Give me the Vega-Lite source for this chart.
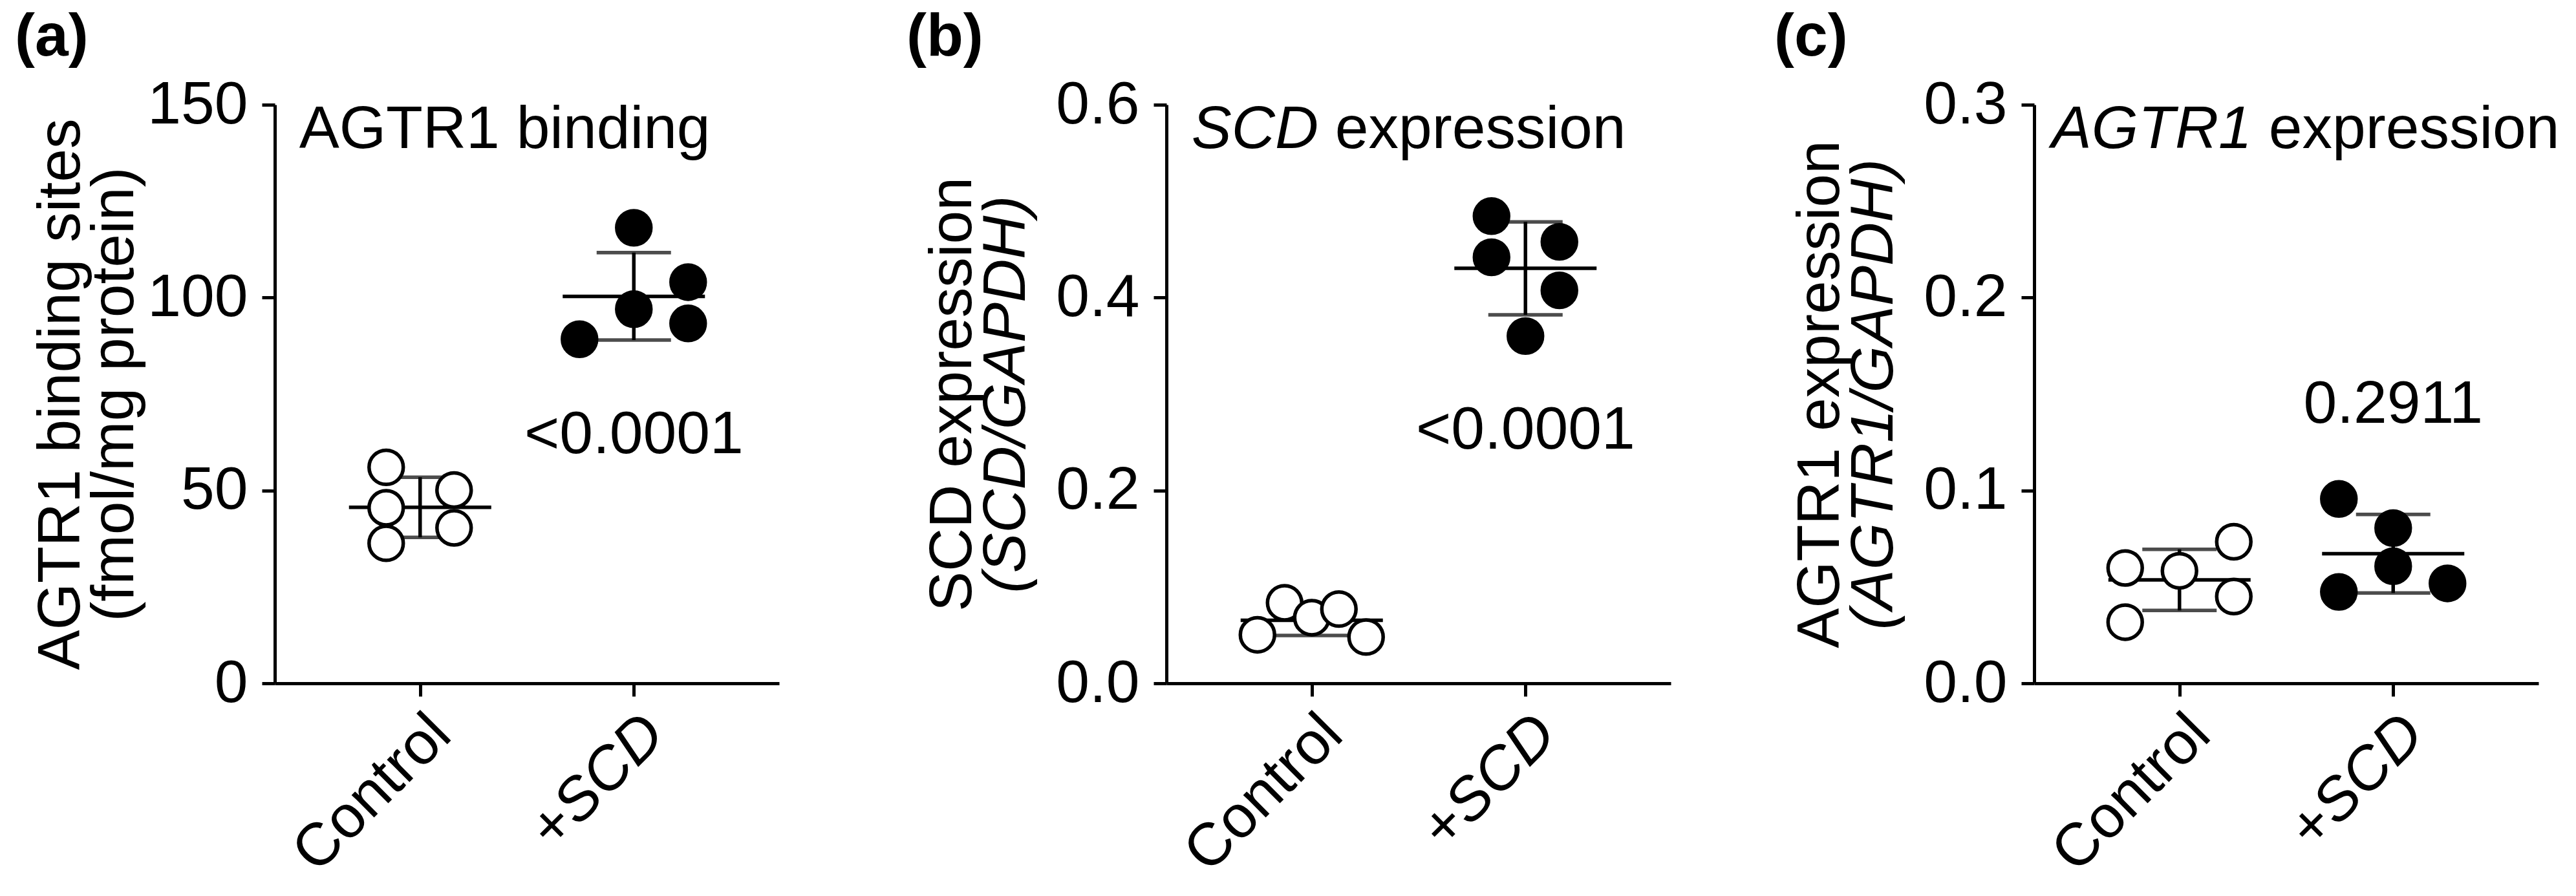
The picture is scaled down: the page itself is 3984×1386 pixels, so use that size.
{
  "$schema": "https://vega.github.io/schema/vega-lite/v6.json",
  "padding": {"left": 23, "top": 12, "right": 5, "bottom": 5},
  "background": "white",
  "bounds": "flush",
  "spacing": 599,
  "datasets": {
    "a": [
      {"group": "Control", "value": 56.0, "slot": -1.25},
      {"group": "Control", "value": 45.5, "slot": -1.25},
      {"group": "Control", "value": 36.3, "slot": -1.25},
      {"group": "Control", "value": 50.1, "slot": 1.25},
      {"group": "Control", "value": 40.3, "slot": 1.25},
      {"group": "+SCD", "value": 118.1, "slot": 0},
      {"group": "+SCD", "value": 104.0, "slot": 2},
      {"group": "+SCD", "value": 97.0, "slot": 0},
      {"group": "+SCD", "value": 93.3, "slot": 2},
      {"group": "+SCD", "value": 89.2, "slot": -2}
    ],
    "b": [
      {"group": "Control", "value": 0.0503, "slot": -2},
      {"group": "Control", "value": 0.0835, "slot": -1},
      {"group": "Control", "value": 0.0681, "slot": 0},
      {"group": "Control", "value": 0.0770, "slot": 1},
      {"group": "Control", "value": 0.0480, "slot": 2},
      {"group": "+SCD", "value": 0.4845, "slot": -1.25},
      {"group": "+SCD", "value": 0.4578, "slot": 1.25},
      {"group": "+SCD", "value": 0.4418, "slot": -1.25},
      {"group": "+SCD", "value": 0.4075, "slot": 1.25},
      {"group": "+SCD", "value": 0.3601, "slot": 0}
    ],
    "c": [
      {"group": "Control", "value": 0.0598, "slot": -2},
      {"group": "Control", "value": 0.0317, "slot": -2},
      {"group": "Control", "value": 0.0583, "slot": 0},
      {"group": "Control", "value": 0.0734, "slot": 2},
      {"group": "Control", "value": 0.0450, "slot": 2},
      {"group": "+SCD", "value": 0.0956, "slot": -2},
      {"group": "+SCD", "value": 0.0805, "slot": 0},
      {"group": "+SCD", "value": 0.0607, "slot": 0},
      {"group": "+SCD", "value": 0.0474, "slot": -2},
      {"group": "+SCD", "value": 0.0518, "slot": 2}
    ]
  },
  "config": {
    "font": "Liberation Sans",
    "view": {"stroke": null},
    "axis": {
      "domainColor": "black", "domainWidth": 5, "tickColor": "black", "tickWidth": 5, "tickSize": 20,
      "labelFont": "Liberation Sans", "labelFontSize": 93, "labelColor": "black", "labelPadding": 22, "labelLimit": 1000,
      "titleFont": "Liberation Sans", "titleFontSize": 93, "titleFontWeight": "normal", "titleColor": "black",
      "grid": false, "labelOverlap": false
    },
    "axisX": {"labelPadding": 12, "domain": true, "ticks": true},
    "text": {"font": "Liberation Sans", "fontSize": 93, "color": "black"},
    "title": {"font": "Liberation Sans", "fontSize": 93, "fontWeight": "bold", "color": "black", "anchor": "start", "frame": "group", "dx": -402, "offset": 10, "baseline": "bottom"}
  },
  "hconcat": [
    {
      "width": 780, "height": 895,
      "title": {"text": "(a)"},
      "data": {"name": "a"},
      "encoding": {
        "x": {"field": "group", "type": "nominal", "scale": {"type": "point", "padding": 0.68, "domain": ["Control", "+SCD"]},
          "axis": {"title": null, "labelAngle": -45, "domain": true, "ticks": true, "labelLimit": 1000, "labelFontStyle": {"condition": {"test": "datum.value == '+SCD'", "value": "italic"}, "value": "normal"}}}
      },
      "layer": [
        {"mark": {"type": "errorbar", "extent": "stdev", "size": 115, "thickness": 5.5, "ticks": true, "color": "black", "rule": {"strokeWidth": 5.5}},
         "encoding": {"y": {"field": "value", "type": "quantitative", "scale": {"domain": [0, 150], "nice": false},
           "axis": {"orient": "left", "values": [0, 50, 100, 150], "format": "d", "title": "(fmol/mg protein)", "titlePadding": 2}}}},
        {"mark": {"type": "tick", "size": 220, "thickness": 5.5, "color": "black", "opacity": 1},
         "encoding": {"y": {"aggregate": "mean", "field": "value", "type": "quantitative",
           "axis": {"orient": "left", "domain": false, "ticks": false, "labels": false, "title": "AGTR1 binding sites", "titlePadding": 283}}}},
        {"mark": {"type": "circle", "size": 2800, "stroke": "black", "strokeWidth": 5.5, "opacity": 1},
         "encoding": {"y": {"field": "value", "type": "quantitative", "axis": null},
           "xOffset": {"field": "slot", "type": "quantitative", "scale": {"domain": [-2, 2], "range": [-84, 84]}},
           "fill": {"field": "group", "type": "nominal", "scale": {"domain": ["Control", "+SCD"], "range": ["white", "black"]}, "legend": null}}},
        {"data": {"values": [{"group": "Control", "t": "AGTR1 binding"}]},
         "mark": {"type": "text", "align": "left", "baseline": "top", "dx": -187, "dy": -6},
         "encoding": {"y": {"datum": 150, "type": "quantitative", "axis": null}, "text": {"field": "t"}}},
        {"data": {"values": [{"group": "+SCD", "t": "<0.0001"}]},
         "mark": {"type": "text", "align": "center", "baseline": "middle"},
         "encoding": {"y": {"datum": 64.4, "type": "quantitative", "axis": null}, "text": {"field": "t"}}}
      ],
      "resolve": {"axis": {"y": "independent"}}
    },
    {
      "bounds": "flush",
      "spacing": 562,
      "hconcat": [
        {
          "width": 780, "height": 895,
          "title": {"text": "(b)"},
          "data": {"name": "b"},
          "encoding": {
            "x": {"field": "group", "type": "nominal", "scale": {"type": "point", "padding": 0.68, "domain": ["Control", "+SCD"]},
              "axis": {"title": null, "labelAngle": -45, "domain": true, "ticks": true, "labelLimit": 1000, "labelFontStyle": {"condition": {"test": "datum.value == '+SCD'", "value": "italic"}, "value": "normal"}}}
          },
          "layer": [
            {"mark": {"type": "errorbar", "extent": "stdev", "size": 115, "thickness": 5.5, "ticks": true, "color": "black", "rule": {"strokeWidth": 5.5}},
             "encoding": {"y": {"field": "value", "type": "quantitative", "scale": {"domain": [0, 0.6], "nice": false},
               "axis": {"orient": "left", "values": [0, 0.2, 0.4, 0.6], "format": ".1f", "title": "(SCD/GAPDH)", "titleFontStyle": "italic", "titlePadding": 28}}}},
            {"mark": {"type": "tick", "size": 220, "thickness": 5.5, "color": "black", "opacity": 1},
             "encoding": {"y": {"aggregate": "mean", "field": "value", "type": "quantitative",
               "axis": {"orient": "left", "domain": false, "ticks": false, "labels": false, "title": "SCD expression", "titlePadding": 283}}}},
            {"mark": {"type": "circle", "size": 2800, "stroke": "black", "strokeWidth": 5.5, "opacity": 1},
             "encoding": {"y": {"field": "value", "type": "quantitative", "axis": null},
               "xOffset": {"field": "slot", "type": "quantitative", "scale": {"domain": [-2, 2], "range": [-84, 84]}},
               "fill": {"field": "group", "type": "nominal", "scale": {"domain": ["Control", "+SCD"], "range": ["white", "black"]}, "legend": null}}},
            {"data": {"values": [{"group": "Control", "t": "SCD"}]},
             "mark": {"type": "text", "align": "left", "baseline": "top", "dx": -186, "dy": -6, "fontStyle": "italic"},
             "encoding": {"y": {"datum": 0.6, "type": "quantitative", "axis": null}, "text": {"field": "t"}}},
            {"data": {"values": [{"group": "Control", "t": "expression"}]},
             "mark": {"type": "text", "align": "left", "baseline": "top", "dx": 36, "dy": -6},
             "encoding": {"y": {"datum": 0.6, "type": "quantitative", "axis": null}, "text": {"field": "t"}}},
            {"data": {"values": [{"group": "+SCD", "t": "<0.0001"}]},
             "mark": {"type": "text", "align": "center", "baseline": "middle"},
             "encoding": {"y": {"datum": 0.262, "type": "quantitative", "axis": null}, "text": {"field": "t"}}}
          ],
          "resolve": {"axis": {"y": "independent"}}
        },
        {
          "width": 780, "height": 895,
          "title": {"text": "(c)"},
          "data": {"name": "c"},
          "encoding": {
            "x": {"field": "group", "type": "nominal", "scale": {"type": "point", "padding": 0.68, "domain": ["Control", "+SCD"]},
              "axis": {"title": null, "labelAngle": -45, "domain": true, "ticks": true, "labelLimit": 1000, "labelFontStyle": {"condition": {"test": "datum.value == '+SCD'", "value": "italic"}, "value": "normal"}}}
          },
          "layer": [
            {"mark": {"type": "errorbar", "extent": "stdev", "size": 115, "thickness": 5.5, "ticks": true, "color": "black", "rule": {"strokeWidth": 5.5}},
             "encoding": {"y": {"field": "value", "type": "quantitative", "scale": {"domain": [0, 0.3], "nice": false},
               "axis": {"orient": "left", "values": [0, 0.1, 0.2, 0.3], "format": ".1f", "title": "(AGTR1/GAPDH)", "titleFontStyle": "italic", "titlePadding": 28}}}},
            {"mark": {"type": "tick", "size": 220, "thickness": 5.5, "color": "black", "opacity": 1},
             "encoding": {"y": {"aggregate": "mean", "field": "value", "type": "quantitative",
               "axis": {"orient": "left", "domain": false, "ticks": false, "labels": false, "title": "AGTR1 expression", "titlePadding": 283}}}},
            {"mark": {"type": "circle", "size": 2800, "stroke": "black", "strokeWidth": 5.5, "opacity": 1},
             "encoding": {"y": {"field": "value", "type": "quantitative", "axis": null},
               "xOffset": {"field": "slot", "type": "quantitative", "scale": {"domain": [-2, 2], "range": [-84, 84]}},
               "fill": {"field": "group", "type": "nominal", "scale": {"domain": ["Control", "+SCD"], "range": ["white", "black"]}, "legend": null}}},
            {"data": {"values": [{"group": "Control", "t": "AGTR1"}]},
             "mark": {"type": "text", "align": "left", "baseline": "top", "dx": -198, "dy": -6, "fontStyle": "italic"},
             "encoding": {"y": {"datum": 0.3, "type": "quantitative", "axis": null}, "text": {"field": "t"}}},
            {"data": {"values": [{"group": "Control", "t": "expression"}]},
             "mark": {"type": "text", "align": "left", "baseline": "top", "dx": 138, "dy": -6},
             "encoding": {"y": {"datum": 0.3, "type": "quantitative", "axis": null}, "text": {"field": "t"}}},
            {"data": {"values": [{"group": "+SCD", "t": "0.2911"}]},
             "mark": {"type": "text", "align": "center", "baseline": "middle"},
             "encoding": {"y": {"datum": 0.1445, "type": "quantitative", "axis": null}, "text": {"field": "t"}}}
          ],
          "resolve": {"axis": {"y": "independent"}}
        }
      ]
    }
  ]
}
